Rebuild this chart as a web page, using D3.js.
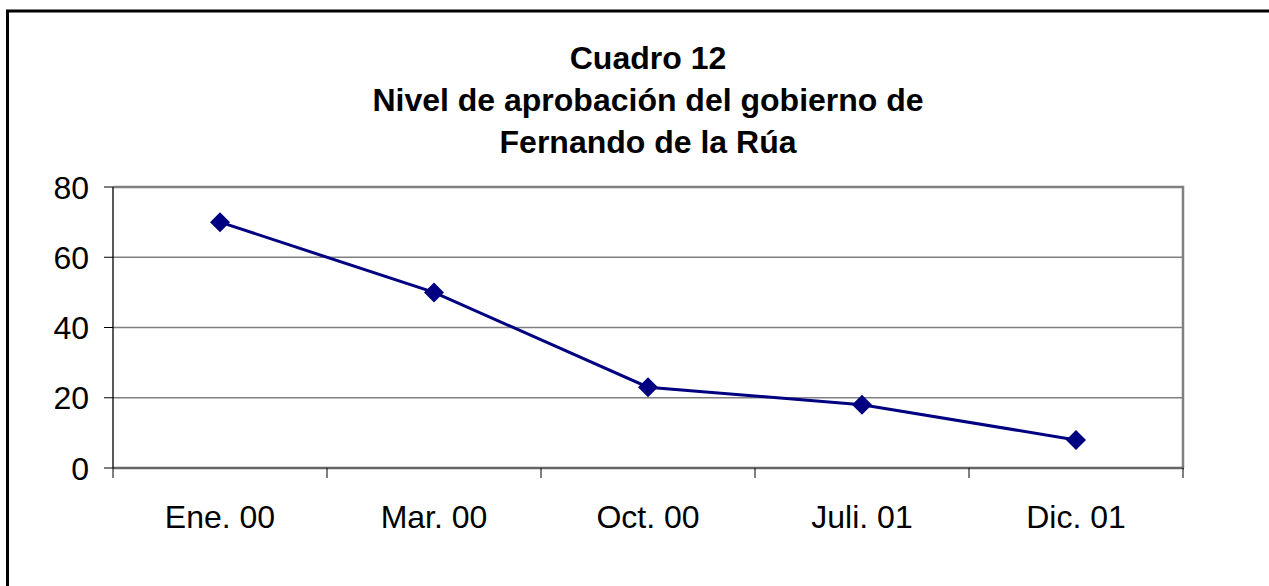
<!DOCTYPE html>
<html>
<head>
<meta charset="utf-8">
<script src="https://cdn.jsdelivr.net/npm/d3@7"></script>
<style>
  body { margin: 0; background: #fff; }
  svg { display: block; font-family: "Liberation Sans", Arial, sans-serif; }
</style>
</head>
<body>
<div id="chart"></div>
<script>
// Chart data
var categories = ["Ene. 00", "Mar. 00", "Oct. 00", "Juli. 01", "Dic. 01"];
var values = [70, 50, 23, 18, 8];
var yTicks = [0, 20, 40, 60, 80];
var titleLines = ["Cuadro 12", "Nivel de aprobación del gobierno de", "Fernando de la Rúa"];

var w = 1269, h = 586;
var plotLeft = 113, plotRight = 1183, plotTop = 187, plotBottom = 468;

var svg = d3.select("#chart").append("svg")
    .attr("width", w)
    .attr("height", h);

// outer frame (runs off the right and bottom edge)
svg.append("rect")
    .attr("x", 7.5).attr("y", 11)
    .attr("width", w + 20).attr("height", h + 20)
    .attr("fill", "none")
    .attr("stroke", "#000")
    .attr("stroke-width", 3);

var xScale = d3.scaleBand()
    .domain(categories)
    .range([plotLeft, plotRight]);

var yScale = d3.scaleLinear()
    .domain([0, 80])
    .range([plotBottom, plotTop]);

// gridlines
svg.append("g").selectAll("line")
    .data(yTicks.filter(function(d) { return d > 0 && d < 80; }))
    .enter().append("line")
    .attr("x1", plotLeft).attr("x2", plotRight)
    .attr("y1", function(d) { return yScale(d); })
    .attr("y2", function(d) { return yScale(d); })
    .attr("stroke", "#808080")
    .attr("stroke-width", 1.3);

// plot area border top and right
svg.append("path")
    .attr("d", "M" + plotLeft + "," + plotTop + "H" + plotRight + "V" + plotBottom)
    .attr("fill", "none")
    .attr("stroke", "#808080")
    .attr("stroke-width", 2.5);

// x axis
var xAxis = svg.append("g")
    .attr("transform", "translate(0," + plotBottom + ")");
xAxis.append("line")
    .attr("x1", plotLeft).attr("x2", plotRight + 1)
    .attr("stroke", "#666")
    .attr("stroke-width", 2.5);
var bounds = categories.map(function(c) { return xScale(c); }).concat([plotRight]);
xAxis.selectAll(".tick")
    .data(bounds)
    .enter().append("line")
    .attr("x1", function(d) { return d; })
    .attr("x2", function(d) { return d; })
    .attr("y1", 0).attr("y2", 10)
    .attr("stroke", "#000")
    .attr("stroke-width", 1);
xAxis.selectAll("text")
    .data(categories)
    .enter().append("text")
    .attr("x", function(d) { return xScale(d) + xScale.bandwidth() / 2; })
    .attr("y", 60)
    .attr("text-anchor", "middle")
    .attr("font-size", 32)
    .attr("fill", "#000")
    .text(function(d) { return d; });

// y axis
var yAxis = svg.append("g");
yAxis.append("line")
    .attr("x1", plotLeft).attr("x2", plotLeft)
    .attr("y1", plotTop).attr("y2", plotBottom)
    .attr("stroke", "#000")
    .attr("stroke-width", 1.3);
yAxis.selectAll(".tick")
    .data(yTicks)
    .enter().append("line")
    .attr("x1", plotLeft - 9).attr("x2", plotLeft)
    .attr("y1", function(d) { return yScale(d); })
    .attr("y2", function(d) { return yScale(d); })
    .attr("stroke", "#000")
    .attr("stroke-width", 1);
yAxis.selectAll("text")
    .data(yTicks)
    .enter().append("text")
    .attr("x", 89)
    .attr("y", function(d) { return yScale(d); })
    .attr("dy", "0.36em")
    .attr("text-anchor", "end")
    .attr("font-size", 32)
    .attr("fill", "#000")
    .text(function(d) { return d; });

// line
var line = d3.line()
    .x(function(d, i) { return xScale(categories[i]) + xScale.bandwidth() / 2; })
    .y(function(d) { return yScale(d); });

svg.append("path")
    .datum(values)
    .attr("d", line)
    .attr("fill", "none")
    .attr("stroke", "#000080")
    .attr("stroke-width", 3);

// diamond markers
svg.selectAll(".marker")
    .data(values)
    .enter().append("path")
    .attr("class", "marker")
    .attr("transform", function(d, i) {
        return "translate(" + (xScale(categories[i]) + xScale.bandwidth() / 2) + "," + yScale(d) + ")";
    })
    .attr("d", "M0,-10L10,0L0,10L-10,0Z")
    .attr("fill", "#000080");

// title
svg.append("g").selectAll("text")
    .data(titleLines)
    .enter().append("text")
    .attr("x", (plotLeft + plotRight) / 2)
    .attr("y", function(d, i) { return 69 + i * 42; })
    .attr("text-anchor", "middle")
    .attr("font-size", 32)
    .attr("font-weight", "bold")
    .attr("fill", "#000")
    .text(function(d) { return d; });
</script>
</body>
</html>
